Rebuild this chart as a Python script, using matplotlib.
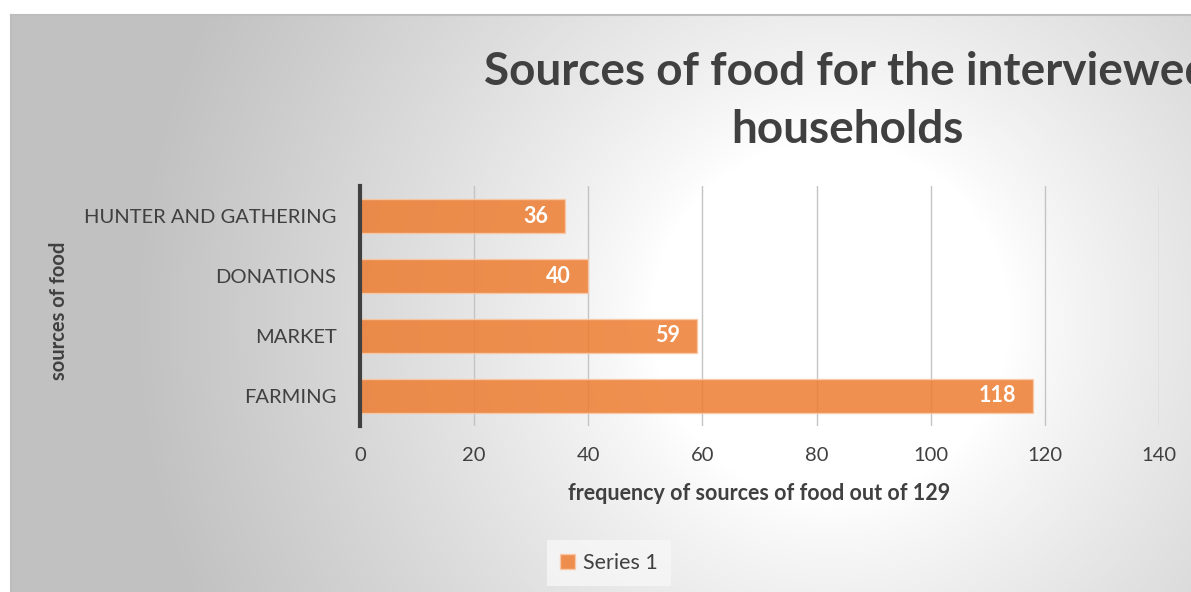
import numpy as np
import matplotlib
matplotlib.use("Agg")
import matplotlib.pyplot as plt
from matplotlib.patches import Patch

plt.rcParams['font.family'] = ['Lato', 'DejaVu Sans']

# data
sources = ["FARMING", "MARKET", "DONATIONS", "HUNTER AND GATHERING"]
counts = [118, 59, 40, 36]
xticks = [0, 20, 40, 60, 80, 100, 120, 140]

W, H = 1191, 592
fig = plt.figure(figsize=(W / 100, H / 100), dpi=100)
fig.patch.set_facecolor("white")

# chart area background with radial gradient
bx0, by0 = 11, 15
bg = fig.add_axes([bx0 / W, 0, 1 - bx0 / W, 1 - by0 / H], zorder=-5)
xx, yy = np.meshgrid(np.arange(bx0, W), np.arange(by0, H))
r = np.sqrt((xx - 830) ** 2 + ((yy - 320) * 1.0) ** 2)
t = np.clip((r - 180) / 520, 0, 1) ** 0.85
g = (255 - 62 * t) / 255
bg.imshow(np.dstack([g, g, g]), aspect="auto", interpolation="bilinear")
bg.set_xticks([])
bg.set_yticks([])
for s in ["right", "bottom"]:
    bg.spines[s].set_visible(False)
for s in ["left", "top"]:
    bg.spines[s].set_color("#bdbdbd")
    bg.spines[s].set_linewidth(1.5)

# main plot
ax = fig.add_axes([360 / W, 1 - 426 / H, (1159 - 360) / W, (426 - 186) / H])
ax.patch.set_alpha(0)
ypos = np.arange(len(sources))
bars = ax.barh(ypos, counts, height=0.58, color="#ED7D31", alpha=0.85,
               edgecolor="#F9C9A8", linewidth=1, label="Series 1", zorder=3)
ax.set_xlim(0, 140)
ax.set_ylim(-0.5, len(sources) - 0.5)
ax.set_xticks(xticks)
ax.set_yticks(ypos)
ax.set_yticklabels(sources)
ax.xaxis.grid(True, color="#c4c4c4", linewidth=1, zorder=4)
ax.set_axisbelow(False)
ax.tick_params(axis="both", length=0, labelsize=14.5, labelcolor="#404040")
ax.tick_params(axis="y", pad=17)
ax.tick_params(axis="x", pad=15)
for s in ["top", "right", "bottom"]:
    ax.spines[s].set_visible(False)
ax.spines["left"].set_color("#404040")
ax.spines["left"].set_linewidth(3)
ax.spines["left"].set_zorder(6)

for b, v in zip(bars, counts):
    ax.text(v - 3, b.get_y() + b.get_height() / 2, str(v), ha="right",
            va="center", color="white", fontsize=15.5, fontweight="bold",
            zorder=7)

ax.set_xlabel("frequency of sources of food out of 129", fontsize=15.5,
              fontweight="bold", color="#404040", labelpad=14)
ax.set_ylabel("sources of food", fontsize=14.5, fontweight="bold",
              color="#404040")
ax.yaxis.set_label_coords(69 / W, 1 - 311 / H, transform=fig.transFigure)

# title is wider than the chart area, as in the original
fig.text(847 / W, 1 - 101 / H, "Sources of food for the interviewed\nhouseholds",
         ha="center", va="center", fontsize=33, fontweight="bold",
         color="#404040", linespacing=1.45)

leg = fig.legend(handles=[Patch(facecolor="#ED7D31", alpha=0.85,
                                edgecolor="#F9C9A8", label="Series 1")],
                 loc="center", bbox_to_anchor=(609 / W, 1 - 563 / H),
                 frameon=True, fontsize=15.5, handlelength=0.7, handleheight=0.7,
                 handletextpad=0.4, borderpad=0.6, fancybox=False)
leg.get_frame().set_facecolor("#f7f7f7")
leg.get_frame().set_edgecolor("none")
for txt in leg.get_texts():
    txt.set_color("#404040")

fig.savefig("out.png", dpi=100)
